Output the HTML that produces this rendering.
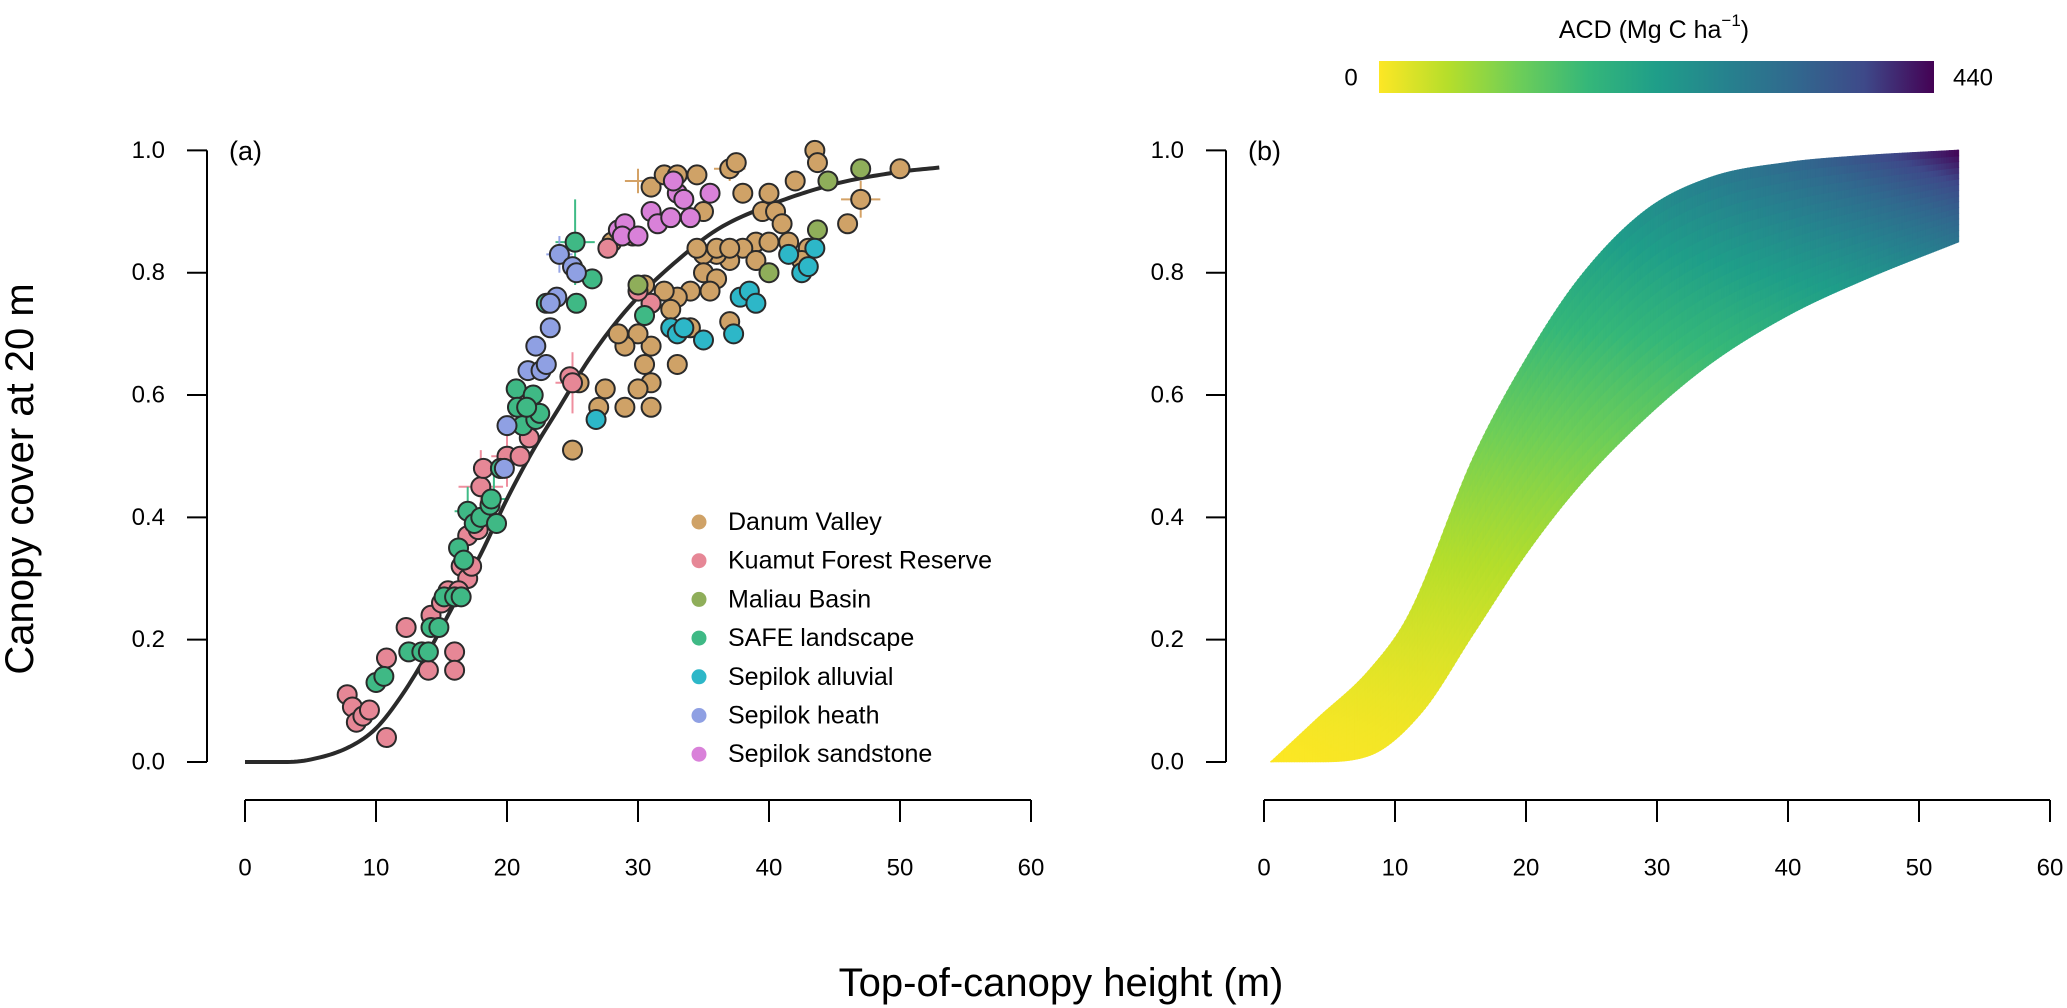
<!DOCTYPE html>
<html><head><meta charset="utf-8"><style>
html,body{margin:0;padding:0;background:#fff;}
svg{display:block;font-family:"Liberation Sans",Arial,sans-serif;}
</style></head><body>
<svg id="chart" width="2067" height="1008" viewBox="0 0 2067 1008" xmlns="http://www.w3.org/2000/svg">
<defs>
<linearGradient id="cbar" x1="0" x2="1" y1="0" y2="0">
<stop offset="0" stop-color="#fde725"/><stop offset="0.125" stop-color="#b5de2b"/><stop offset="0.25" stop-color="#6ece58"/><stop offset="0.375" stop-color="#35b779"/><stop offset="0.5" stop-color="#1f9e89"/><stop offset="0.625" stop-color="#26828e"/><stop offset="0.75" stop-color="#31688e"/><stop offset="0.875" stop-color="#3e4989"/><stop offset="1" stop-color="#440154"/>
</linearGradient>
</defs>
<g id="panelA"></g>
<g id="panelB"></g>
<text x="20" y="479" transform="rotate(-90 20 479)" text-anchor="middle" dominant-baseline="central" font-size="40">Canopy cover at 20 m</text>
<text x="1061" y="983" text-anchor="middle" dominant-baseline="central" font-size="40">Top-of-canopy height (m)</text>
<g>
<rect x="1379" y="61" width="555" height="32" fill="url(#cbar)"/>
<text x="1351" y="78" text-anchor="middle" dominant-baseline="central" font-size="24">0</text>
<text x="1973" y="78" text-anchor="middle" dominant-baseline="central" font-size="24">440</text>
<text x="1654" y="30" text-anchor="middle" dominant-baseline="central" font-size="25">ACD (Mg C ha<tspan dy="-10" font-size="17">−1</tspan><tspan dy="10">)</tspan></text>
</g>
</svg>
<script>
const NS="http://www.w3.org/2000/svg";
const xTicks=[0,10,20,30,40,50,60];
const yTicks=[0.0,0.2,0.4,0.6,0.8,1.0];
const yTickLabels=["0.0","0.2","0.4","0.6","0.8","1.0"];
const sites=["Danum Valley","Kuamut Forest Reserve","Maliau Basin","SAFE landscape","Sepilok alluvial","Sepilok heath","Sepilok sandstone"];
const siteColors=["#cfa267","#e68796","#8fae5a","#3fb985","#2db7c8","#8fa0e3","#d981d9"];
const errColors=["#d4a266","#ef8f9f","#96b25f","#3fbb86","#33bbcc","#95a5e6","#dc88dc"];
const danumH=[31,32,33,34.5,37,37.5,43.5,43.7,50,47,46,42,40,38,35,39.5,40.5,41,41.5,39,38,40,37,36,35,34.5,36,37,35,36,35.5,34,33,32.5,31,30.5,32,37,34,33,31,30,29,28.5,30.5,31,30,29,31,27,27.5,25,28,25.5,43,42.5,39];
const danumC=[0.94,0.96,0.96,0.96,0.97,0.98,1.0,0.98,0.97,0.92,0.88,0.95,0.93,0.93,0.9,0.9,0.9,0.88,0.85,0.85,0.84,0.85,0.82,0.83,0.83,0.84,0.84,0.84,0.8,0.79,0.77,0.77,0.76,0.74,0.75,0.78,0.77,0.72,0.71,0.65,0.68,0.7,0.68,0.7,0.65,0.62,0.61,0.58,0.58,0.58,0.61,0.51,0.85,0.62,0.84,0.82,0.82];
const kuamutH=[7.8,8.2,8.5,9,9.5,10.8,10.8,12.3,14,14.2,15,15.5,16,16,16.5,17,17.3,17,17.8,18,18.2,19.5,20,21,21.7,24.8,25,27.7,29.6,31,30,16.3];
const kuamutC=[0.11,0.09,0.065,0.075,0.085,0.04,0.17,0.22,0.15,0.24,0.26,0.28,0.18,0.15,0.32,0.3,0.32,0.37,0.38,0.45,0.48,0.48,0.5,0.5,0.53,0.63,0.62,0.84,0.86,0.75,0.77,0.28];
const maliauH=[44.5,47,43.7,40,30];
const maliauC=[0.95,0.97,0.87,0.8,0.78];
const safeH=[10,10.6,12.5,13.5,14,14.2,14.8,15.2,16,16.5,16.3,16.7,17,17.5,18,18.7,18.8,19.2,20.7,20.8,21.2,22,22.2,22.5,23,25.2,25.3,26.5,30.5,21.5,19.5];
const safeC=[0.13,0.14,0.18,0.18,0.18,0.22,0.22,0.27,0.27,0.27,0.35,0.33,0.41,0.39,0.4,0.42,0.43,0.39,0.61,0.58,0.55,0.6,0.56,0.57,0.75,0.85,0.75,0.79,0.73,0.58,0.48];
const alluvialH=[26.8,32.5,33,33.5,35,37.3,37.8,38.5,39,42.5,43,43.5,41.5];
const alluvialC=[0.56,0.71,0.7,0.71,0.69,0.7,0.76,0.77,0.75,0.8,0.81,0.84,0.83];
const heathH=[20,19.8,21.6,22.2,22.6,23,23.3,23.8,23.3,24,25,25.3];
const heathC=[0.55,0.48,0.64,0.68,0.64,0.65,0.71,0.76,0.75,0.83,0.81,0.8];
const sandH=[28.5,29,28.8,30,31,31.5,32.5,33,33.5,34,35.5,32.7];
const sandC=[0.87,0.88,0.86,0.86,0.9,0.88,0.89,0.93,0.92,0.89,0.93,0.95];
const errSite=[3,1,1,0,0,0,1,3,3,5];
const errH=[25.2,18,20,30,37,47,25,17,19,24];
const errC=[0.85,0.45,0.5,0.95,0.97,0.92,0.62,0.41,0.43,0.83];
const errX=[1.5,1.7,1.2,1,1.2,1.5,1.3,1,1,1];
const errY=[0.07,0.06,0.05,0.02,0.02,0.03,0.05,0.04,0.04,0.03];
const curveH=[0,3,5,8,10,12,14,16,18,20,22,24,26,28,30,33,36,40,45,50,53];
const curveC=[0,0,0.004,0.025,0.055,0.11,0.18,0.26,0.34,0.43,0.51,0.58,0.65,0.71,0.76,0.82,0.87,0.91,0.945,0.965,0.972];
const bandUpH=[0.5,4,8,11,16,20,24,29,34,40,45,53];
const bandUpC=[0,0.07,0.15,0.24,0.5,0.66,0.79,0.9,0.955,0.98,0.99,1.0];
const bandLoH=[0.5,4,8,12,16,20,24,29,34,40,46,53];
const bandLoC=[0,0,0.01,0.08,0.21,0.34,0.45,0.56,0.65,0.73,0.79,0.85];
const acdMax=440;

const A={x0:245,xs:13.1,y0:762,ys:611.6,axisX:207,axisY:800};
const B={x0:1264,xs:13.1,y0:762,ys:611.6,axisX:1226,axisY:800};
function sx(P,h){return P.x0+h*P.xs;}
function sy(P,c){return P.y0-c*P.ys;}
function mk(tag,attrs,parent){const e=document.createElementNS(NS,tag);for(const k in attrs)e.setAttribute(k,attrs[k]);parent.appendChild(e);return e;}
// monotone cubic interpolation
function mono(xs,ys){
  const n=xs.length,d=[],m=[];
  for(let i=0;i<n-1;i++)d.push((ys[i+1]-ys[i])/(xs[i+1]-xs[i]));
  m[0]=d[0];m[n-1]=d[n-2];
  for(let i=1;i<n-1;i++){m[i]=(d[i-1]*d[i]<=0)?0:(d[i-1]+d[i])/2;}
  for(let i=0;i<n-1;i++){if(d[i]===0){m[i]=0;m[i+1]=0;continue;}const a=m[i]/d[i],b=m[i+1]/d[i],s=a*a+b*b;if(s>9){const t=3/Math.sqrt(s);m[i]=t*a*d[i];m[i+1]=t*b*d[i];}}
  return function(x){
    if(x<=xs[0])return ys[0];if(x>=xs[n-1])return ys[n-1];
    let i=0;while(x>xs[i+1])i++;
    const h=xs[i+1]-xs[i],t=(x-xs[i])/h,t2=t*t,t3=t2*t;
    return (2*t3-3*t2+1)*ys[i]+(t3-2*t2+t)*h*m[i]+(-2*t3+3*t2)*ys[i+1]+(t3-t2)*h*m[i+1];
  };
}

function axes(P,g,label){
  const xa=mk("g",{},g);
  
  
  mk("line",{x1:sx(P,0),x2:sx(P,60),y1:P.axisY,y2:P.axisY,stroke:"#000","stroke-width":2},xa);
  xTicks.forEach(t=>{
    mk("line",{x1:sx(P,t),x2:sx(P,t),y1:P.axisY,y2:P.axisY+22,stroke:"#000","stroke-width":2},xa);
    const tx=mk("text",{x:sx(P,t),y:868,"text-anchor":"middle","dominant-baseline":"central","font-size":24},xa);
    
    
    tx.textContent=t;
  });
  const ya=mk("g",{},g);
  
  
  mk("line",{x1:P.axisX,x2:P.axisX,y1:sy(P,0),y2:sy(P,1),stroke:"#000","stroke-width":2},ya);
  yTicks.forEach((t,i)=>{
    mk("line",{x1:P.axisX-20,x2:P.axisX,y1:sy(P,t),y2:sy(P,t),stroke:"#000","stroke-width":2},ya);
    const tx=mk("text",{x:P.axisX-42,y:sy(P,t),"text-anchor":"end","dominant-baseline":"central","font-size":24},ya);
    
    
    tx.textContent=yTickLabels[i];
  });
  const pl=mk("text",{x:P.axisX+22,y:151,"dominant-baseline":"central","font-size":27},g);
  
  
  pl.textContent=label;
}

// Panel A
const gA=document.getElementById("panelA");
axes(A,gA,"(a)");
const errG=mk("g",{},gA);


errH.forEach((h,i)=>{
  const col=errColors[errSite[i]];
  mk("line",{x1:sx(A,h-errX[i]),x2:sx(A,h+errX[i]),y1:sy(A,errC[i]),y2:sy(A,errC[i]),stroke:col,"stroke-width":2},errG);
  mk("line",{x1:sx(A,h),x2:sx(A,h),y1:sy(A,errC[i]-errY[i]),y2:sy(A,errC[i]+errY[i]),stroke:col,"stroke-width":2},errG);
});
const fc=mono(curveH,curveC);
let cd="";
for(let h=0;h<=53.001;h+=0.25){cd+=(cd?" L":"M")+sx(A,h).toFixed(2)+","+sy(A,fc(h)).toFixed(2);}
const cpath=mk("path",{d:cd,fill:"none",stroke:"#2a2a2a","stroke-width":4},gA);


const siteH=[danumH,kuamutH,maliauH,safeH,alluvialH,heathH,sandH];
const siteC=[danumC,kuamutC,maliauC,safeC,alluvialC,heathC,sandC];
siteH.forEach((hs,s)=>{
  const sg=mk("g",{},gA);
  
  
  hs.forEach((h,i)=>{
    const c=mk("circle",{cx:sx(A,h),cy:sy(A,siteC[s][i]),r:9.5,fill:siteColors[s],stroke:"#2a2a2a","stroke-width":2},sg);
    
    
  });
});
const lg=mk("g",{},gA);


sites.forEach((s,i)=>{
  const y=522+i*38.7;
  const e=mk("g",{},lg);
  
  
  mk("circle",{cx:699,cy:y,r:7.5,fill:siteColors[i]},e);
  const t=mk("text",{x:728,y:y,"dominant-baseline":"central","font-size":25},e);
  t.textContent=s;
});

// Panel B
const gB=document.getElementById("panelB");
axes(B,gB,"(b)");
function viridis(t){
  const st=[[253,231,37],[181,222,43],[110,206,88],[53,183,121],[31,158,137],[38,130,142],[49,104,142],[62,73,137],[68,1,84]];
  t=Math.max(0,Math.min(1,t))*8;const i=Math.min(7,Math.floor(t)),f=t-i;
  const a=st[i],b=st[i+1];return "rgb("+a.map((v,k)=>Math.round(v+(b[k]-v)*f)).join(",")+")";
}
const band=mk("g",{},gB);


const fu=mono(bandUpH,bandUpC),fl=mono(bandLoH,bandLoC);
const hMin=bandUpH[0],hMax=bandUpH[bandUpH.length-1],step=0.2,nv=16;
function acdAt(h,c){const hn=h/hMax;return acdMax*Math.min(1,0.6*Math.pow(c,1.5)+0.4*Math.pow(hn,3)*Math.pow(c,4)+0.08*hn*(1-c));}
for(let h=hMin;h<hMax-1e-9;h+=step){
  const h2=Math.min(hMax,h+step);
  const u1=fu(h),u2=fu(h2),l1=fl(h),l2=fl(h2);
  for(let k=0;k<nv;k++){
    const f1=k/nv,f2=(k+1)/nv;
    const a1=l1+(u1-l1)*f1,b1=l1+(u1-l1)*f2,a2=l2+(u2-l2)*f1,b2=l2+(u2-l2)*f2;
    const col=viridis(acdAt(h+step/2,(a1+b1)/2)/acdMax);
    mk("polygon",{points:[sx(B,h),sy(B,a1),sx(B,h2)+0.6,sy(B,a2),sx(B,h2)+0.6,sy(B,b2)-0.5,sx(B,h),sy(B,b1)-0.5].join(" "),fill:col,stroke:col,"stroke-width":0.5},band);
  }
}
</script>
</body></html>
